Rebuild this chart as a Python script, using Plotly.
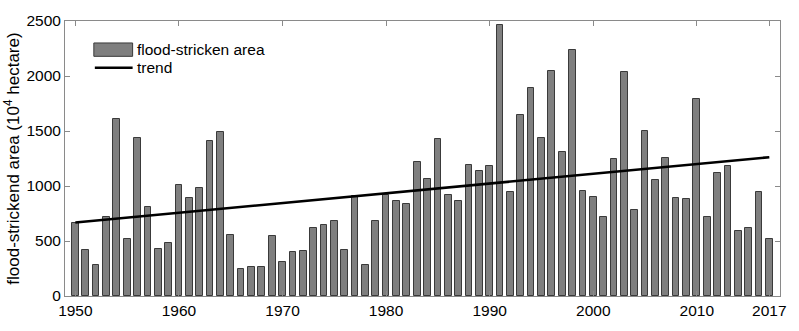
import plotly.graph_objects as go

years = list(range(1950, 2018))
area = [660, 415, 280, 716, 1612, 522, 1435, 810, 427, 482,
        1010, 890, 980, 1405, 1495, 555, 245, 260, 268, 543,
        312, 398, 408, 622, 645, 680, 420, 905, 283, 680,
        922, 862, 838, 1218, 1063, 1423, 917, 868, 1195, 1133,
        1180, 2462, 943, 1642, 1888, 1438, 2042, 1313, 2232, 958,
        904, 715, 1242, 2040, 780, 1498, 1055, 1257, 888, 878,
        1790, 718, 1122, 1180, 590, 615, 945, 518]
trend_years = [1950, 2017]
trend_values = [668, 1262]
x_ticks = [1950, 1960, 1970, 1980, 1990, 2000, 2010, 2017]
y_ticks = [0, 500, 1000, 1500, 2000, 2500]

FONT = "Liberation Sans, Arial, sans-serif"
TICK_SIZE = 15.5

fig = go.Figure()
fig.add_trace(go.Bar(
    x=years, y=area, width=0.65,
    marker=dict(color="#7f7f7f", line=dict(color="#3a3a3a", width=1)),
    name="flood-stricken area", showlegend=False,
))
fig.add_trace(go.Scatter(
    x=trend_years, y=trend_values, mode="lines",
    line=dict(color="black", width=2.6),
    name="trend", showlegend=False,
))

# legend drawn manually (paper coords)
W, H = 799, 331
L, R, T, B = 65, 15, 13, 30
pw, ph = W - L - R, H - T - B
def px(x):
    return (x - L) / pw
def py(y):
    return 1 - (y - T) / ph

fig.add_shape(type="rect", xref="paper", yref="paper",
              x0=px(94), x1=px(133), y0=py(50), y1=py(36),
              fillcolor="#7f7f7f", line=dict(color="#3a3a3a", width=1))
fig.add_shape(type="line", xref="paper", yref="paper",
              x0=px(95), x1=px(133), y0=py(62), y1=py(62),
              line=dict(color="black", width=2.6))
fig.add_annotation(xref="paper", yref="paper", x=px(135), y=py(43),
                   text="flood-stricken area", showarrow=False,
                   xanchor="left", yanchor="middle",
                   font=dict(family=FONT, size=15.5, color="black"))
fig.add_annotation(xref="paper", yref="paper", x=px(135), y=py(62),
                   text="trend", showarrow=False,
                   xanchor="left", yanchor="middle",
                   font=dict(family=FONT, size=15.5, color="black"))

fig.update_layout(
    width=W, height=H,
    margin=dict(l=L, r=R, t=T, b=B),
    plot_bgcolor="white", paper_bgcolor="white",
    font=dict(family=FONT, size=TICK_SIZE, color="black"),
    bargap=0,
)
fig.update_xaxes(
    range=[1949.0, 2018.03], tickmode="array", tickvals=x_ticks,
    ticktext=[str(t) for t in x_ticks],
    showline=True, linecolor="#8a8a8a", linewidth=1, mirror="ticks",
    ticks="inside", ticklen=5, tickcolor="#8a8a8a",
    showgrid=False, zeroline=False,
    tickfont=dict(family=FONT, size=TICK_SIZE, color="black"),
)
fig.update_yaxes(
    range=[0, 2500], tickmode="array", tickvals=y_ticks,
    showline=True, linecolor="#8a8a8a", linewidth=1, mirror="ticks",
    ticks="inside", ticklen=5, tickcolor="#8a8a8a",
    showgrid=False, zeroline=False,
    tickfont=dict(family=FONT, size=TICK_SIZE, color="black"),
    title=dict(text="flood-strickend area (10<sup>4</sup> hectare)",
               font=dict(family=FONT, size=17, color="black"), standoff=2),
)

fig.write_html("out.html")
